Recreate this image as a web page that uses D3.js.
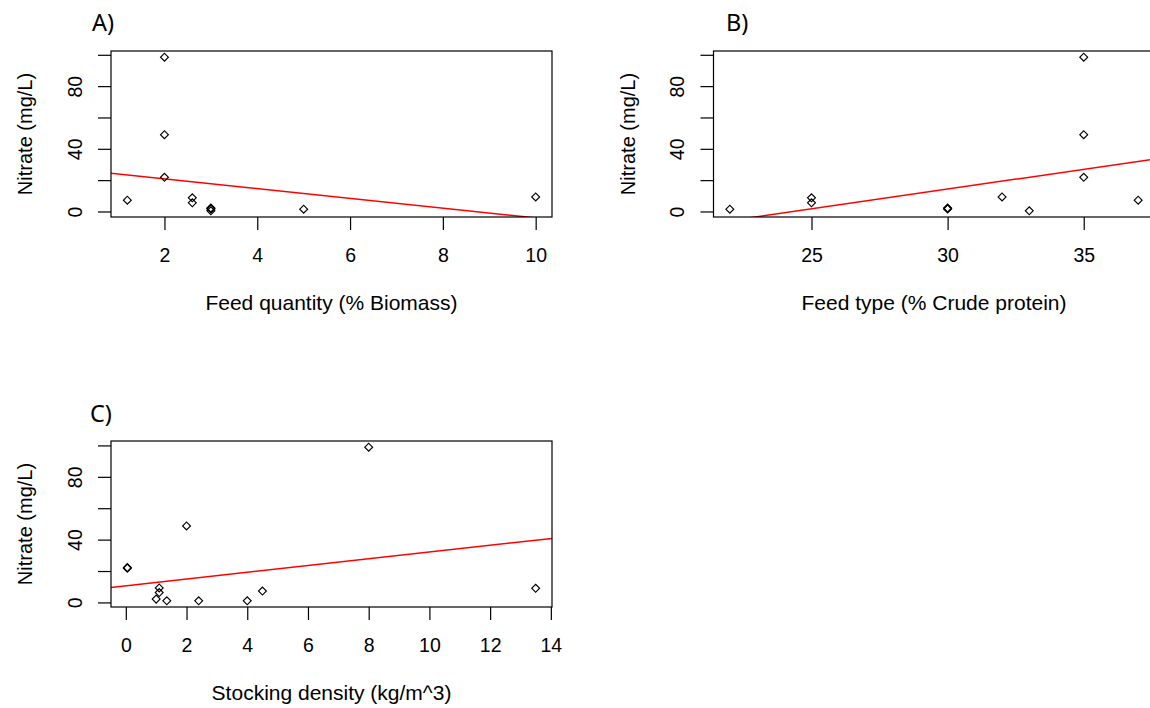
<!DOCTYPE html>
<html>
<head>
<meta charset="utf-8">
<script src="https://cdn.jsdelivr.net/npm/d3@7"></script>
<style>
  body { margin: 0; background: #fff; }
  svg { display: block; }
</style>
</head>
<body>
<svg id="chart"></svg>
<script>
// Panel A: feed quantity vs nitrate
const feedQuantity = [1.2, 2, 2, 2, 2.6, 2.6, 3, 3, 3, 3, 5, 10];
const nitrateA = [7.2, 98.5, 49, 21.8, 8.7, 5.5, 0.4, 1.6, 1.9, 2.2, 1.5, 9.3];
const fitA = { intercept: 27.1, slope: -3.12 };

// Panel B: feed type vs nitrate
const crudeProtein = [22, 25, 25, 30, 30, 30, 32, 33, 35, 35, 35, 37];
const nitrateB = [1.5, 8.7, 5.5, 1.6, 1.9, 2.2, 9.3, 0.4, 98.5, 49, 21.8, 7.2];
const fitB = { intercept: -61.3, slope: 2.52 };

// Panel C: stocking density vs nitrate
const stockingDensity = [0.05, 0.05, 1, 1.1, 1.1, 1.35, 2, 2.4, 4, 4.5, 8, 13.5];
const nitrateC = [21.8, 22.2, 2.1, 9.2, 6.3, 1.0, 48.7, 1.0, 1.0, 7.2, 98.9, 9.0];
const fitC = { intercept: 10.6, slope: 2.15 };

const xTicksA = [2, 4, 6, 8, 10];
const xTicksB = [25, 30, 35];
const xTicksC = [0, 2, 4, 6, 8, 10, 12, 14];
const yTicks = [0, 20, 40, 60, 80, 100];
const yLabelled = [0, 40, 80];

const width = 1150;
const height = 708;
const plotW = 441;
const plotH = 166;

const svg = d3.select("#chart").attr("width", width).attr("height", height);

// R style limits: data range extended by 4% each side
function rLimits(values) {
  const [lo, hi] = d3.extent(values);
  const pad = (hi - lo) * 0.04;
  return [lo - pad, hi + pad];
}

const symbol = d3.symbol().type(d3.symbolSquare).size(31);

function drawPanel(opts) {
  const g = svg.append("g").attr("transform", `translate(${opts.left}, ${opts.top})`);

  const x = d3.scaleLinear().domain(rLimits(opts.xs)).range([0, plotW]);
  const y = d3.scaleLinear().domain(rLimits(opts.ys)).range([plotH, 0]);

  const clipId = "clip-" + opts.id;
  g.append("clipPath")
    .attr("id", clipId)
    .append("rect")
    .attr("width", plotW)
    .attr("height", plotH);

  // x axis
  const xAxis = g.append("g")
    .attr("transform", `translate(0, ${plotH})`)
    .call(d3.axisBottom(x).tickValues(opts.xTicks).tickSize(13).tickSizeOuter(0));
  xAxis.select(".domain").remove();
  xAxis.selectAll("line").attr("stroke", "#000").attr("stroke-width", 1.2);
  xAxis.selectAll("text")
    .attr("y", 44.7)
    .attr("dy", 0)
    .attr("fill", "#000")
    .style("font-family", "'Liberation Sans', Arial, sans-serif")
    .style("font-size", "19.5px");

  // y axis
  const yAxis = g.append("g")
    .call(d3.axisLeft(y).tickValues(yTicks).tickSize(13).tickSizeOuter(0)
      .tickFormat(d => (yLabelled.includes(d) ? d : "")));
  yAxis.select(".domain").remove();
  yAxis.selectAll("line").attr("stroke", "#000").attr("stroke-width", 1.2);
  yAxis.selectAll("text")
    .attr("x", null)
    .attr("dy", 0)
    .attr("transform", "translate(-29.5, 0) rotate(-90)")
    .attr("text-anchor", "middle")
    .attr("fill", "#000")
    .style("font-family", "'Liberation Sans', Arial, sans-serif")
    .style("font-size", "19.5px");

  // fitted line, clipped to the plot region
  const [x0, x1] = x.domain();
  g.append("line")
    .attr("clip-path", `url(#${clipId})`)
    .attr("x1", x(x0))
    .attr("y1", y(opts.fit.intercept + opts.fit.slope * x0))
    .attr("x2", x(x1))
    .attr("y2", y(opts.fit.intercept + opts.fit.slope * x1))
    .attr("stroke", "#ff0000")
    .attr("stroke-width", 1.5);

  // points
  g.selectAll("path.pt")
    .data(opts.xs.map((v, i) => [v, opts.ys[i]]))
    .join("path")
    .attr("class", "pt")
    .attr("d", symbol)
    .attr("transform", d => `translate(${x(d[0])}, ${y(d[1])}) rotate(45)`)
    .attr("fill", "none")
    .attr("stroke", "#000")
    .attr("stroke-width", 1.15);

  // box
  g.append("rect")
    .attr("width", plotW)
    .attr("height", plotH)
    .attr("fill", "none")
    .attr("stroke", "#000")
    .attr("stroke-width", 1.2);

  // axis titles
  g.append("text")
    .attr("x", plotW / 2)
    .attr("y", plotH + 93.3)
    .attr("text-anchor", "middle")
    .style("font-family", "'Liberation Sans', Arial, sans-serif")
    .style("font-size", "21px")
    .text(opts.xTitle);

  g.append("text")
    .attr("transform", `translate(-79, ${plotH / 2}) rotate(-90)`)
    .attr("text-anchor", "middle")
    .style("font-family", "'Liberation Sans', Arial, sans-serif")
    .style("font-size", "20px")
    .text("Nitrate (mg/L)");

  // panel letter
  svg.append("text")
    .attr("x", opts.labelX)
    .attr("y", opts.labelY)
    .style("font-family", "'Noto Sans', 'Open Sans', sans-serif")
    .style("font-size", "23.5px")
    .text(opts.label);
}

drawPanel({
  id: "a", left: 111, top: 51, xs: feedQuantity, ys: nitrateA, fit: fitA,
  xTicks: xTicksA, xTitle: "Feed quantity (% Biomass)",
  label: "A)", labelX: 92, labelY: 31
});

drawPanel({
  id: "b", left: 713.5, top: 51, xs: crudeProtein, ys: nitrateB, fit: fitB,
  xTicks: xTicksB, xTitle: "Feed type (% Crude protein)",
  label: "B)", labelX: 726, labelY: 31
});

drawPanel({
  id: "c", left: 111, top: 441, xs: stockingDensity, ys: nitrateC, fit: fitC,
  xTicks: xTicksC, xTitle: "Stocking density (kg/m^3)",
  label: "C)", labelX: 90, labelY: 422
});
</script>
</body>
</html>
